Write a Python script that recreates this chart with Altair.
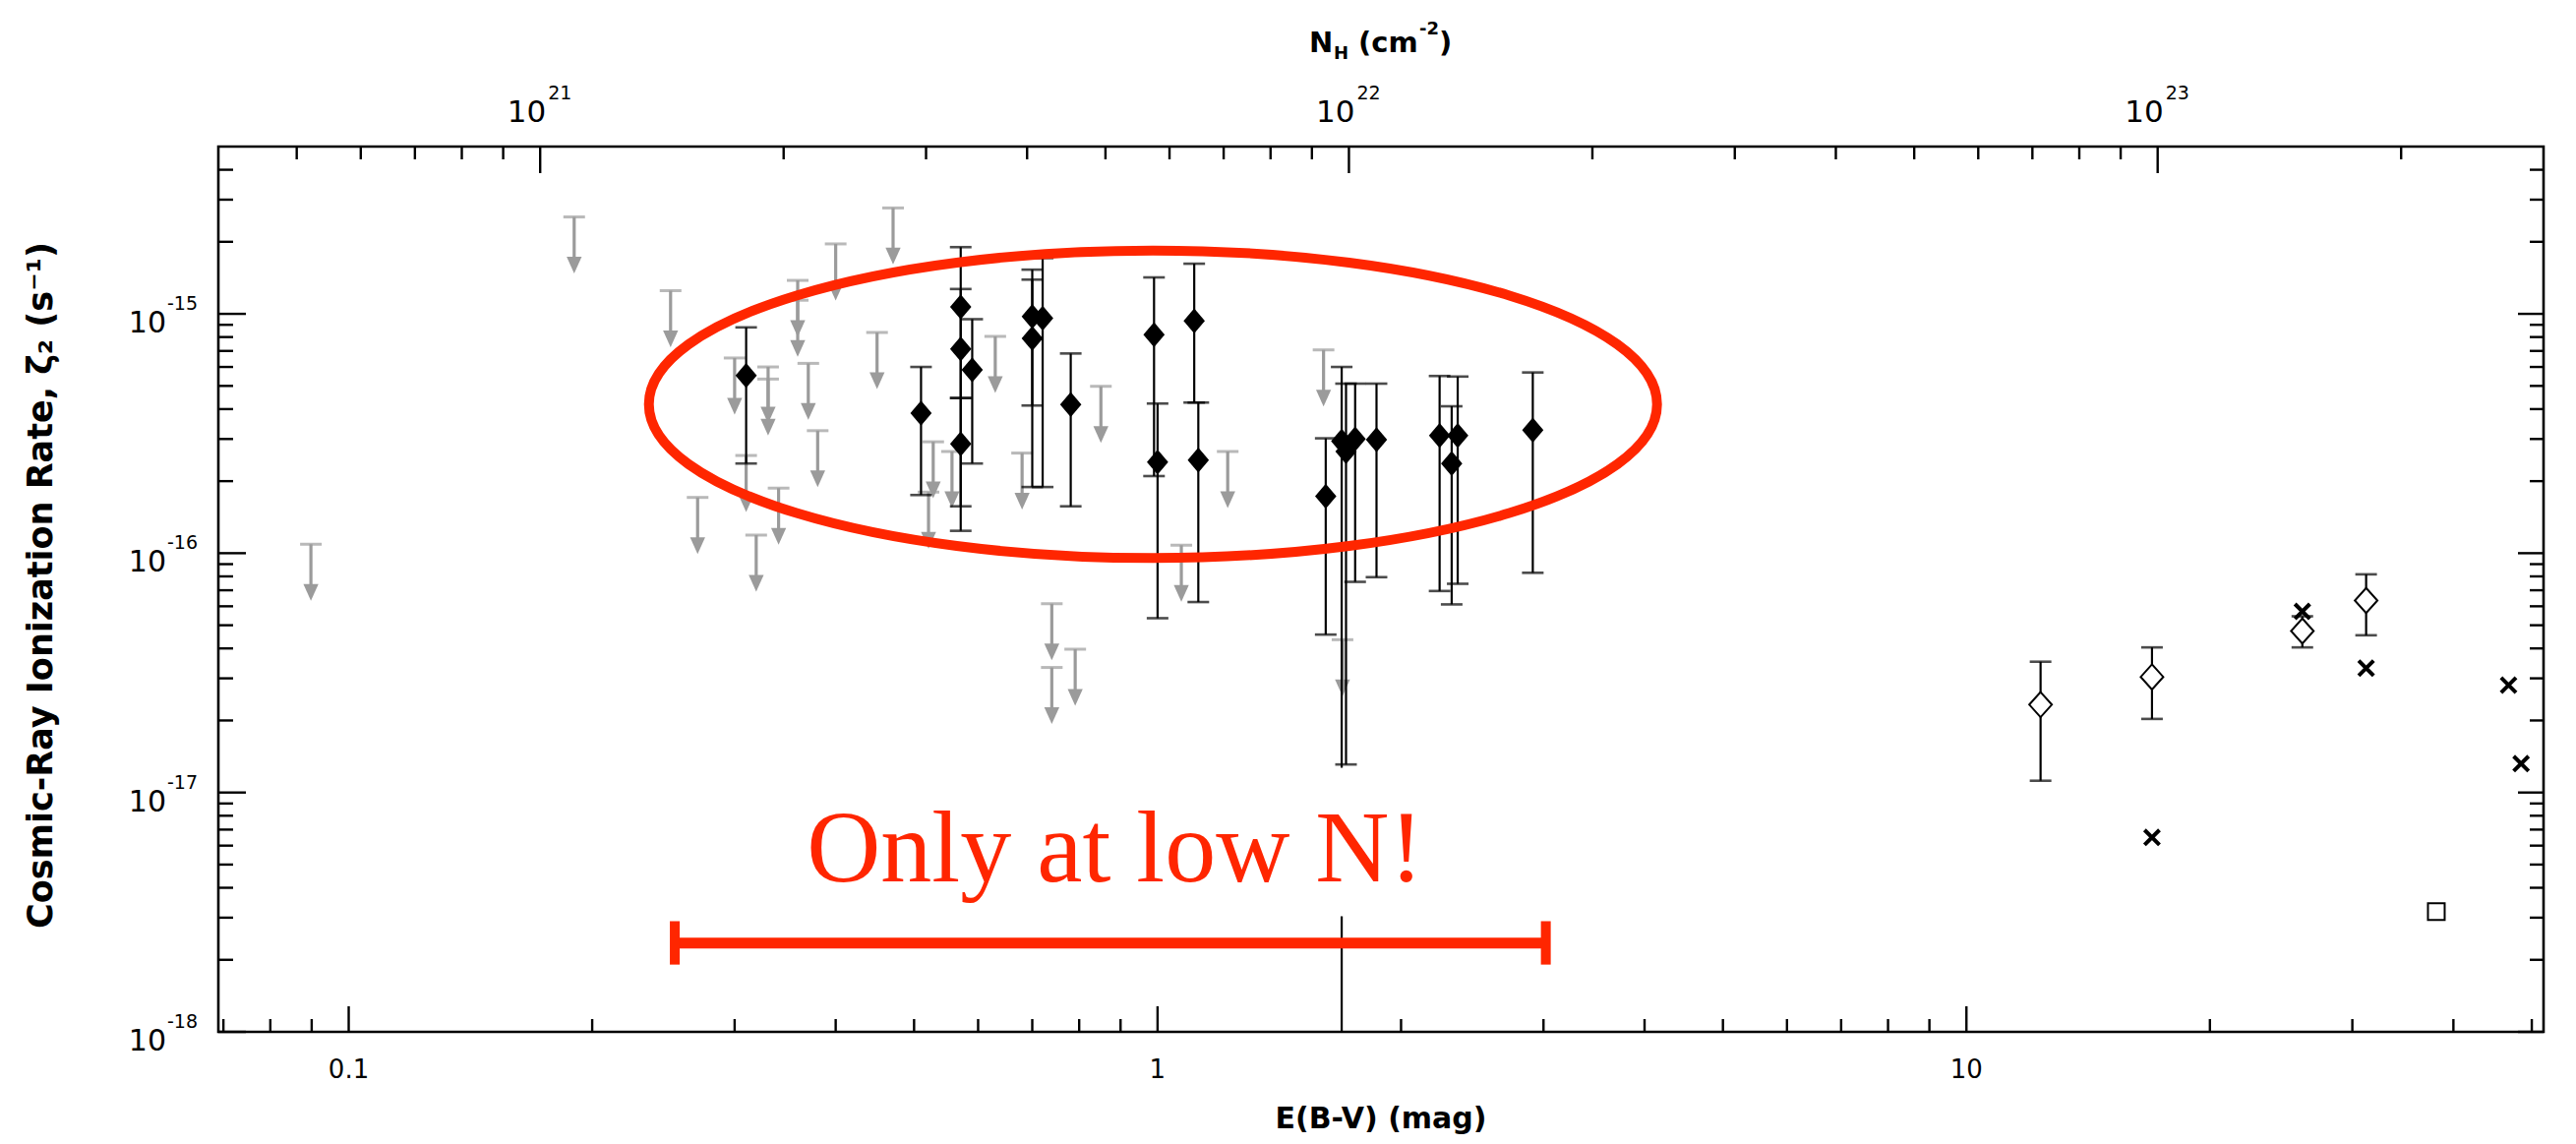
import altair as alt
import pandas as pd

# ---------------- data ----------------
# detections (filled black diamonds) : E(B-V), zeta_2, upper and lower error ends
det_ebv = [0.310, 0.510, 0.571, 0.571, 0.590, 0.571, 0.700, 0.721, 0.700, 0.781,
           0.990, 1.000, 1.110, 1.123, 1.614, 1.689, 1.710, 1.755, 1.865, 2.232,
           2.350, 2.310, 2.910]
det_zeta = [5.53e-16, 3.85e-16, 1.07e-15, 7.14e-16, 5.83e-16, 2.86e-16, 9.75e-16, 9.60e-16, 7.90e-16, 4.18e-16,
            8.18e-16, 2.40e-16, 9.35e-16, 2.45e-16, 1.73e-16, 2.94e-16, 2.66e-16, 3.00e-16, 2.98e-16, 3.10e-16,
            3.10e-16, 2.37e-16, 3.27e-16]
det_hi = [8.78e-16, 6.00e-16, 1.90e-15, 1.27e-15, 9.50e-16, 4.45e-16, 1.53e-15, 1.71e-15, 1.39e-15, 6.83e-16,
          1.42e-15, 4.22e-16, 1.62e-15, 4.26e-16, 3.02e-16, 6.00e-16, 5.11e-16, 5.11e-16, 5.11e-16, 5.50e-16,
          5.47e-16, 4.11e-16, 5.69e-16]
det_lo = [2.37e-16, 1.75e-16, 4.45e-16, 1.24e-16, 2.37e-16, 1.57e-16, 4.14e-16, 1.89e-16, 1.89e-16, 1.57e-16,
          2.10e-16, 5.35e-17, 4.26e-16, 6.25e-17, 4.57e-17, 5.00e-19, 1.31e-17, 7.59e-17, 7.94e-17, 6.95e-17,
          7.45e-17, 6.11e-17, 8.28e-17]

# upper limits (grey arrows)
lim_ebv = [0.0898, 0.190, 0.250, 0.270, 0.300, 0.310, 0.319, 0.330, 0.330, 0.340,
           0.359, 0.359, 0.370, 0.380, 0.400, 0.450, 0.471, 0.521, 0.528, 0.557,
           0.630, 0.680, 0.740, 0.740, 0.791, 0.851, 1.070, 1.221, 1.604, 1.693]
lim_zeta = [1.09e-16, 2.54e-15, 1.25e-15, 1.71e-16, 6.54e-16, 2.56e-16, 1.19e-16, 6.00e-16, 5.34e-16, 1.87e-16,
            1.38e-15, 1.14e-15, 6.21e-16, 3.25e-16, 1.96e-15, 8.36e-16, 2.77e-15, 1.80e-16, 2.92e-16, 2.66e-16,
            8.05e-16, 2.62e-16, 6.15e-17, 3.33e-17, 3.97e-17, 4.98e-16, 1.08e-16, 2.66e-16, 7.07e-16, 4.35e-17]

# dense clouds (open diamonds with error bars)
dense_ebv = [12.35, 16.96, 26.02, 31.20]
dense_zeta = [2.33e-17, 3.04e-17, 4.73e-17, 6.34e-17]
dense_hi = [3.52e-17, 4.04e-17, 5.45e-17, 8.16e-17]
dense_lo = [1.12e-17, 2.03e-17, 4.04e-17, 4.54e-17]

# crosses and square
cross_ebv = [16.96, 26.02, 31.20, 46.8, 48.5]
cross_zeta = [6.49e-18, 5.71e-17, 3.31e-17, 2.81e-17, 1.32e-17]
square_ebv = [38.1]
square_zeta = [3.18e-18]

# axis ticks
x_major = [0.1, 1, 10]
x_minor = [0.07, 0.08, 0.09, 0.2, 0.3, 0.4, 0.5, 0.6, 0.7, 0.8, 0.9,
           2, 3, 4, 5, 6, 7, 8, 9, 20, 30, 40, 50]
x_labels = ["0.1", "1", "10"]
n_major = [1e21, 1e22, 1e23]
n_minor = [5e20, 6e20, 7e20, 8e20, 9e20, 2e21, 3e21, 4e21, 5e21, 6e21, 7e21, 8e21, 9e21,
           2e22, 3e22, 4e22, 5e22, 6e22, 7e22, 8e22, 9e22, 2e23]
n_exp = ["21", "22", "23"]
y_major = [1e-18, 1e-17, 1e-16, 1e-15]
y_minor = [2e-18, 3e-18, 4e-18, 5e-18, 6e-18, 7e-18, 8e-18, 9e-18,
           2e-17, 3e-17, 4e-17, 5e-17, 6e-17, 7e-17, 8e-17, 9e-17,
           2e-16, 3e-16, 4e-16, 5e-16, 6e-16, 7e-16, 8e-16, 9e-16,
           2e-15, 3e-15, 4e-15]
y_exp = ["-18", "-17", "-16", "-15"]

# red annotations
ellipse_center = [0.987, 4.19e-16]
bar_ebv = [0.253, 3.02]
bar_zeta = 2.35e-18
bar_cap_zeta = [1.91e-18, 2.90e-18]
note_pos = [0.886, 4.26e-18]
note_box = [0.356, 2.20, 3.04e-18, 1.27e-17]

# ---------------- layout / style ----------------
W, H = 2364, 900
GRAY = "#9b9b9b"
RED = "#ff2600"
FONT = "DejaVu Sans"
ARROW_DROP = 10 ** (-49 / 243.5)   # arrow head centre below the limit cap

xs = alt.Scale(type="log", domain=[0.069, 51.7], nice=False)
ys = alt.Scale(type="log", domain=[1e-18, 5e-15], nice=False)
ns = alt.Scale(type="log", domain=[4e20, 3e23], nice=False)


def ex(f):
    return alt.X(f + ":Q", scale=xs, axis=None)


def ey(f):
    return alt.Y(f + ":Q", scale=ys, axis=None)


det = pd.DataFrame({"E": det_ebv, "z": det_zeta, "hi": det_hi, "lo": det_lo})
lim = pd.DataFrame({"E": lim_ebv, "z": lim_zeta})
lim["tip"] = lim["z"] * ARROW_DROP
dense = pd.DataFrame({"E": dense_ebv, "z": dense_zeta, "hi": dense_hi, "lo": dense_lo})
cross = pd.DataFrame({"E": cross_ebv, "z": cross_zeta})
square = pd.DataFrame({"E": square_ebv, "z": square_zeta})

DIAMOND = "M0,-1L0.85,0L0,1L-0.85,0Z"
ODIAMOND = "M0,-1L0.9,0L0,1L-0.9,0Z"
XSHAPE = "M-1,-1L1,1M-1,1L1,-1"
ARROWHEAD = "M-0.9,-1L0.9,-1L0,1Z"
k, b = 0.5523, 0.305
ELLIPSE = (f"M-1,0C-1,{-k*b:.4f} {-k},{-b} 0,{-b}C{k},{-b} 1,{-k*b:.4f} 1,0"
           f"C1,{k*b:.4f} {k},{b} 0,{b}C{-k},{b} -1,{k*b:.4f} -1,0Z")

layers = []

# grey upper limits
layers.append(alt.Chart(lim).mark_rule(color=GRAY, strokeWidth=3.2).encode(
    x=ex("E"), y=ey("z"), y2="tip:Q"))
layers.append(alt.Chart(lim).mark_tick(color=GRAY, orient="horizontal", size=22, thickness=3).encode(
    x=ex("E"), y=ey("z")))
layers.append(alt.Chart(lim).mark_point(shape=ARROWHEAD, filled=True, color=GRAY, opacity=1, size=289).encode(
    x=ex("E"), y=ey("tip")))

# detections
layers.append(alt.Chart(det).mark_rule(color="black", strokeWidth=2.2, clip=True).encode(
    x=ex("E"), y=ey("lo"), y2="hi:Q"))
for f in ["hi", "lo"]:
    layers.append(alt.Chart(det).mark_tick(color="black", orient="horizontal", size=22, thickness=2.6,
                                           clip=True).encode(x=ex("E"), y=ey(f)))
layers.append(alt.Chart(det).mark_point(shape=DIAMOND, filled=True, color="black", opacity=1, size=650).encode(
    x=ex("E"), y=ey("z")))

# dense clouds
layers.append(alt.Chart(dense).mark_rule(color="black", strokeWidth=2.2).encode(
    x=ex("E"), y=ey("lo"), y2="hi:Q"))
for f in ["hi", "lo"]:
    layers.append(alt.Chart(dense).mark_tick(color="black", orient="horizontal", size=22, thickness=2.6).encode(
        x=ex("E"), y=ey(f)))
layers.append(alt.Chart(dense).mark_point(shape=ODIAMOND, filled=True, fill="white", stroke="black",
                                          strokeWidth=2, opacity=1, size=650).encode(x=ex("E"), y=ey("z")))
layers.append(alt.Chart(cross).mark_point(shape=XSHAPE, filled=False, color="black", strokeWidth=4,
                                          opacity=1, size=230).encode(x=ex("E"), y=ey("z")))
layers.append(alt.Chart(square).mark_point(shape="square", filled=False, color="black", strokeWidth=2,
                                           opacity=1, size=289).encode(x=ex("E"), y=ey("z")))

# axis ticks (pointing inwards)
xmaj = pd.DataFrame({"v": x_major, "lab": x_labels})
xmin = pd.DataFrame({"v": x_minor})
nmaj = pd.DataFrame({"v": n_major, "e": n_exp})
nmin = pd.DataFrame({"v": n_minor})
ymaj = pd.DataFrame({"v": y_major, "e": y_exp})
ymin = pd.DataFrame({"v": y_minor})
TW = 2.4
layers += [
    alt.Chart(xmaj).mark_rule(color="black", strokeWidth=TW).encode(x=ex("v"), y=alt.value(H), y2=alt.value(H - 26)),
    alt.Chart(xmin).mark_rule(color="black", strokeWidth=TW).encode(x=ex("v"), y=alt.value(H), y2=alt.value(H - 13)),
    alt.Chart(nmaj).mark_rule(color="black", strokeWidth=TW).encode(
        x=alt.X("v:Q", scale=ns, axis=None), y=alt.value(0), y2=alt.value(27)),
    alt.Chart(nmin).mark_rule(color="black", strokeWidth=TW).encode(
        x=alt.X("v:Q", scale=ns, axis=None), y=alt.value(0), y2=alt.value(13)),
    alt.Chart(ymaj).mark_rule(color="black", strokeWidth=TW).encode(y=ey("v"), x=alt.value(0), x2=alt.value(28)),
    alt.Chart(ymin).mark_rule(color="black", strokeWidth=TW).encode(y=ey("v"), x=alt.value(0), x2=alt.value(15)),
    alt.Chart(ymaj).mark_rule(color="black", strokeWidth=TW).encode(y=ey("v"), x=alt.value(W), x2=alt.value(W - 26)),
    alt.Chart(ymin).mark_rule(color="black", strokeWidth=TW).encode(y=ey("v"), x=alt.value(W), x2=alt.value(W - 14)),
]

# tick labels
layers += [
    alt.Chart(xmaj).mark_text(font=FONT, fontSize=26, align="center", baseline="alphabetic").encode(
        x=ex("v"), y=alt.value(H + 47), text="lab:N"),
    alt.Chart(ymaj).mark_text(font=FONT, fontSize=30, align="right", baseline="alphabetic", dy=19).encode(
        x=alt.value(-53), y=ey("v"), text=alt.value("10")),
    alt.Chart(ymaj).mark_text(font=FONT, fontSize=19, align="left", baseline="alphabetic", dy=-4).encode(
        x=alt.value(-52), y=ey("v"), text="e:N"),
    alt.Chart(nmaj).mark_text(font=FONT, fontSize=31, align="right", baseline="alphabetic", dx=6).encode(
        x=alt.X("v:Q", scale=ns, axis=None), y=alt.value(-25), text=alt.value("10")),
    alt.Chart(nmaj).mark_text(font=FONT, fontSize=19, align="left", baseline="alphabetic", dx=8).encode(
        x=alt.X("v:Q", scale=ns, axis=None), y=alt.value(-48), text="e:N"),
]

# axis titles
t = pd.DataFrame({"t": ["E(B-V) (mag)"]})
layers.append(alt.Chart(t).mark_text(font=FONT, fontSize=30, fontWeight="bold", align="center",
                                     baseline="alphabetic").encode(
    x=alt.value(W / 2), y=alt.value(H + 98), text="t:N"))
t = pd.DataFrame({"t": ["Cosmic-Ray Ionization Rate, \u03b6\u2082 (s\u207b\u00b9)"]})
layers.append(alt.Chart(t).mark_text(font=FONT, fontSize=35, fontWeight="bold", align="center",
                                     baseline="middle", angle=270).encode(
    x=alt.value(-180), y=alt.value(446), text="t:N"))
top_parts = pd.DataFrame({
    "t": ["N", "H", "(cm", "-2", ")"],
    "px": [1109, 1134, 1159, 1221, 1241],
    "py": [-96, -89, -96, -114, -96],
    "fs": [29, 18, 29, 18, 29],
})
for i in range(len(top_parts)):
    row = top_parts.iloc[[i]]
    layers.append(alt.Chart(row).mark_text(font=FONT, fontSize=int(row["fs"].iloc[0]), fontWeight="bold",
                                           align="left", baseline="alphabetic").encode(
        x=alt.value(float(row["px"].iloc[0])), y=alt.value(float(row["py"].iloc[0])), text="t:N"))

# red annotations
ell = pd.DataFrame({"E": [ellipse_center[0]], "z": [ellipse_center[1]]})
layers.append(alt.Chart(ell).mark_point(shape=ELLIPSE, filled=False, stroke=RED, strokeWidth=10,
                                        opacity=1, size=1025 ** 2).encode(x=ex("E"), y=ey("z")))
box = pd.DataFrame({"x1": [note_box[0]], "x2": [note_box[1]], "y1": [note_box[2]], "y2": [note_box[3]]})
layers.append(alt.Chart(box).mark_rect(color="white").encode(x=ex("x1"), x2="x2:Q", y=ey("y1"), y2="y2:Q"))
note = pd.DataFrame({"E": [note_pos[0]], "z": [note_pos[1]], "t": ["Only at low N!"]})
layers.append(alt.Chart(note).mark_text(font="Liberation Serif", fontSize=104, color=RED, align="center",
                                        baseline="alphabetic").encode(x=ex("E"), y=ey("z"), text="t:N"))
bar = pd.DataFrame({"E1": [bar_ebv[0]], "E2": [bar_ebv[1]], "z": [bar_zeta]})
layers.append(alt.Chart(bar).mark_rule(color=RED, strokeWidth=11).encode(x=ex("E1"), x2="E2:Q", y=ey("z")))
caps = pd.DataFrame({"E": bar_ebv, "lo": [bar_cap_zeta[0]] * 2, "hi": [bar_cap_zeta[1]] * 2})
layers.append(alt.Chart(caps).mark_rule(color=RED, strokeWidth=10).encode(x=ex("E"), y=ey("lo"), y2="hi:Q"))

chart = alt.layer(*layers).resolve_scale(x="independent").properties(
    width=W, height=H,
    autosize=alt.AutoSizeParams(type="none"),
    padding={"left": 214, "top": 141, "right": 25, "bottom": 106},
    background="white",
).configure_view(stroke="black", strokeWidth=2.6)

chart.save("out.html", embed_options={"renderer": "svg", "actions": False})
